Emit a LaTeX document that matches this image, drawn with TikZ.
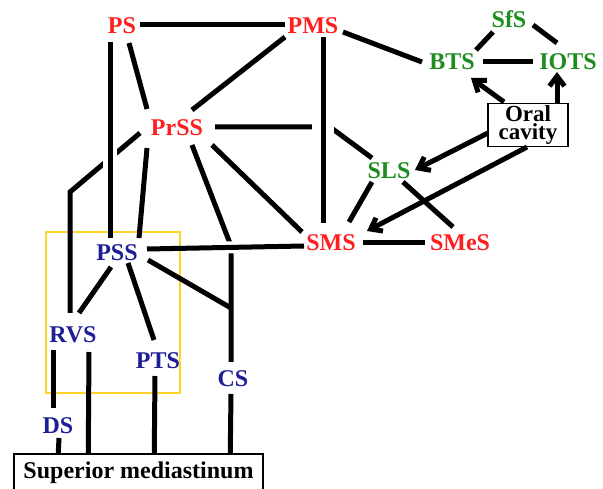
\documentclass[tikz,border=0pt]{standalone}
\usepackage{fontspec}
\setmainfont{Liberation Serif}
\usetikzlibrary{arrows.meta,calc}
\definecolor{cred}{HTML}{FF1E1E}
\definecolor{cgreen}{HTML}{1E8C1E}
\definecolor{cblue}{HTML}{1E1E96}
\definecolor{cyel}{HTML}{FFD426}
\begin{document}
\begin{tikzpicture}[x=1pt,y=-1pt,
  lbl/.style={inner sep=0pt,text height=16pt,text depth=0pt,font=\fontsize{24}{24}\selectfont\bfseries},
  redn/.style={lbl,text=cred},
  greenn/.style={lbl,text=cgreen},
  bluen/.style={lbl,text=cblue},
  boxn/.style={draw=black,line width=1.5pt,inner sep=0pt,align=center},
  link/.style={line width=5pt,draw=black},
  arr/.style={link,-{Straight Barb[length=10pt,width=15pt]}},
  bridge/.style={preaction={draw=white,line width=#1}}]
\useasboundingbox (0,0) rectangle (603,489);
% yellow frame
\draw[cyel,line width=1.5pt] (46,232) rectangle (180,393);
% nodes
\node[redn] (PS) at (122,26) {PS};
\node[redn] (PMS) at (313,26) {PMS};
\node[redn] (PrSS) at (177,128) {PrSS};
\node[redn] (SMS) at (331,243) {SMS};
\node[redn] (SMeS) at (460,243) {SMeS};
\node[greenn] (SfS) at (509,20) {SfS};
\node[greenn] (BTS) at (452,62) {BTS};
\node[greenn] (IOTS) at (568,62) {IOTS};
\node[greenn] (SLS) at (389,171) {SLS};
\node[bluen] (PSS) at (117,253) {PSS};
\node[bluen] (RVS) at (73,334) {RVS};
\node[bluen] (PTS) at (158,360) {PTS};
\node[bluen] (CS) at (233,378) {CS};
\node[bluen] (DS) at (58,425) {DS};
\node[boxn,minimum width=80pt,minimum height=43pt,font=\fontsize{23}{17.5}\selectfont\bfseries] (OC) at (528,125) {Oral\\cavity};
\node[boxn,minimum width=249pt,minimum height=37pt,font=\fontsize{24}{24}\selectfont\bfseries] (SM) at (138.5,472.5) {Superior mediastinum};
% bend points
\coordinate (bSLS) at (330,127);
\coordinate (bRVS) at (70,192);
\coordinate (bCS) at (231,246);
\coordinate (jCS) at (231,308);
% lines that are crossed with a gap
\draw[link] ([shift={(38,-1)}]PrSS.center) -- (bSLS) -- ([shift={(-17,-13)}]SLS.center);
\draw[link] ([shift={(-37,5)}]PrSS.center) -- (bRVS) -- ([shift={(-3,-21)}]RVS.center);
\draw[link] ([shift={(15,17)}]PrSS.center) -- (bCS) -- ([shift={(-2,-16)}]CS.center);
\draw[link] ([shift={(31,7)}]PSS.center) -- (jCS);
% lines drawn over them
\draw[link,bridge=22pt] ([shift={(10,11)}]PMS.center) -- ([shift={(-8,-20)}]SMS.center);
\draw[link,preaction={draw=white,line width=14pt,shorten >=30pt}] ([shift={(-12,16)}]PS.center) -- ([shift={(-7,-15)}]PSS.center);
\draw[link,preaction={draw=white,line width=12pt,shorten <=40pt}] ([shift={(30,-4)}]PSS.center) -- ([shift={(-27,3)}]SMS.center);
% other lines
\draw[link] ([shift={(18,-1)}]PS.center) -- ([shift={(-28,-1)}]PMS.center);
\draw[link] ([shift={(7,17)}]PS.center) -- ([shift={(-30,-19)}]PrSS.center);
\draw[link] ([shift={(-28,11)}]PMS.center) -- ([shift={(15,-18)}]PrSS.center);
\draw[link] ([shift={(30,6)}]PMS.center) -- ([shift={(-30,0)}]BTS.center);
\draw[link] ([shift={(-30,20)}]PrSS.center) -- ([shift={(22,-15)}]PSS.center);
\draw[link] ([shift={(35,17)}]PrSS.center) -- ([shift={(-29,-11)}]SMS.center);
\draw[link] ([shift={(-6,14)}]PSS.center) -- ([shift={(6,-21)}]RVS.center);
\draw[link] ([shift={(11,10)}]PSS.center) -- ([shift={(-4,-20)}]PTS.center);
\draw[link] ([shift={(-20,16)}]RVS.center) -- ([shift={(-5,-17)}]DS.center);
\draw[link] ([shift={(1,13)}]DS.center) -- ($(SM.north west)+(45,0)$);
\draw[link] ([shift={(16,18)}]RVS.center) -- ($(SM.north west)+(75,0)$);
\draw[link] ([shift={(-3,16)}]PTS.center) -- ($(SM.north west)+(141,0)$);
\draw[link] ([shift={(-2,16)}]CS.center) -- ($(SM.north west)+(217,0)$);
\draw[link] ([shift={(-17,11)}]SLS.center) -- ([shift={(18,-21)}]SMS.center);
\draw[link] ([shift={(14,11)}]SLS.center) -- ([shift={(-7,-16)}]SMeS.center);
\draw[link] ([shift={(32,0)}]SMS.center) -- ([shift={(-35,0)}]SMeS.center);
\draw[link] ([shift={(-16,12)}]SfS.center) -- ([shift={(24,-12)}]BTS.center);
\draw[link] ([shift={(24,5)}]SfS.center) -- ([shift={(-11,-19)}]IOTS.center);
\draw[link] ([shift={(31,0)}]BTS.center) -- ([shift={(-35,0)}]IOTS.center);
% arrows from the oral cavity
\draw[arr] ([shift={(-24,-23)}]OC.center) -- ([shift={(19,16)}]BTS.center);
\draw[arr] ([shift={(29,-22)}]OC.center) -- ([shift={(-11,10)}]IOTS.center);
\draw[arr] ([shift={(-40,8)}]OC.center) -- ([shift={(26,-1)}]SLS.center);
\draw[arr] ([shift={(-1,22)}]OC.center) -- ([shift={(36,-12)}]SMS.center);
\end{tikzpicture}
\end{document}
